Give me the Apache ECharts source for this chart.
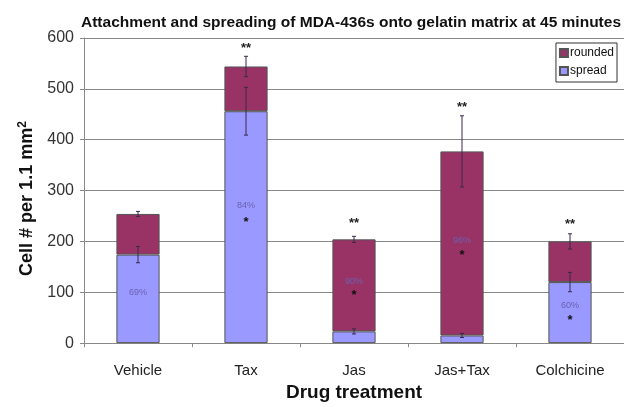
<!DOCTYPE html>
<html><head><meta charset="utf-8">
<script src="https://cdn.jsdelivr.net/npm/echarts@6/dist/echarts.min.js"></script>
<style>html,body{margin:0;padding:0;background:#fff}#c{width:624px;height:407px}</style>
</head><body><div id="c"></div>
<script>
const categories = ['Vehicle', 'Tax', 'Jas', 'Jas+Tax', 'Colchicine'];
const spread = [174, 456, 23, 15, 120];
const rounded = [80, 88, 181, 362, 80];
const spreadErr = [16, 47, 5, 4, 19];
const totalErr = [5, 20, 6, 70, 15];
const pctLabels = ['69%', '84%', '90%', '96%', '60%'];
const pctY = [101, 272, 124, 204, 76];
const starY = [null, 243, 99, 179, 51];
const sigY = [null, 586, 241, 470, 239];

const FONT = '"Liberation Sans", Arial, sans-serif';

const chart = echarts.init(document.getElementById('c'), null, {renderer: 'canvas'});

function errItem(params, api) {
  const x = api.value(0), v = api.value(1), e = api.value(2);
  const t = api.coord([x, v + e]);
  const b = api.coord([x, v - e]);
  const w = 2;
  const st = {stroke: '#3a2a4a', lineWidth: 1};
  return {type: 'group', children: [
    {type: 'line', shape: {x1: t[0], y1: t[1], x2: b[0], y2: b[1]}, style: st},
    {type: 'line', shape: {x1: t[0] - w, y1: t[1], x2: t[0] + w, y2: t[1]}, style: st},
    {type: 'line', shape: {x1: b[0] - w, y1: b[1], x2: b[0] + w, y2: b[1]}, style: st}
  ]};
}
function textItem(texts, font, color, dy) {
  return function (params, api) {
    const idx = api.value(0);
    const p = api.coord([idx, api.value(1)]);
    return {type: 'text', x: p[0], y: p[1] + (dy || 0), style: {
      text: texts[idx], font: font, fill: color, align: 'center', verticalAlign: 'middle'}};
  };
}
function pts(ys) {
  const out = [];
  ys.forEach((y, i) => { if (y !== null) out.push([i, y]); });
  return out;
}

const totals = spread.map((s, i) => s + rounded[i]);

chart.setOption({
  animation: false,
  title: {
    text: 'Attachment and spreading of MDA-436s onto gelatin matrix at 45 minutes',
    left: 346, top: 10, textAlign: 'center',
    textStyle: {fontFamily: FONT, fontWeight: 'bold', fontSize: 15.5, color: '#111'}
  },
  legend: {
    data: ['rounded', 'spread'], orient: 'vertical', right: 7, top: 43,
    borderColor: '#333', borderWidth: 1, padding: [4, 3, 5, 3], itemGap: 6,
    itemWidth: 8, itemHeight: 8, icon: 'rect', backgroundColor: '#fff',
    textStyle: {fontFamily: FONT, fontSize: 12, color: '#111', padding: [0, 0, 0, -3]}
  },
  grid: {left: 84, top: 38, width: 545, height: 309},
  xAxis: {
    type: 'category', data: categories,
    axisLine: {lineStyle: {color: '#888', width: 1}},
    axisTick: {show: true, length: 4, lineStyle: {color: '#888'}},
    axisLabel: {fontFamily: FONT, fontSize: 15, color: '#222', margin: 20},
    name: 'Drug treatment', nameLocation: 'middle', nameGap: 39,
    nameTextStyle: {fontFamily: FONT, fontSize: 19, fontWeight: 'bold', color: '#111'}
  },
  yAxis: {
    type: 'value', min: 0, max: 600, interval: 100,
    axisLine: {show: true, lineStyle: {color: '#888', width: 1}},
    axisTick: {show: true, length: 4, lineStyle: {color: '#888'}},
    splitLine: {lineStyle: {color: '#888', width: 1}},
    axisLabel: {fontFamily: FONT, fontSize: 16, color: '#333', margin: 10},
    name: 'Cell # per 1.1 mm{s|2}', nameLocation: 'middle', nameGap: 47,
    nameTextStyle: {fontFamily: FONT, fontSize: 18, fontWeight: 'bold', color: '#111',
      padding: [0, 16, 0, 0],
      rich: {s: {fontFamily: FONT, fontSize: 12, fontWeight: 'bold', color: '#111', verticalAlign: 'top', padding: [0, 0, 8, 0]}}}
  },
  series: [
    {name: 'spread', type: 'bar', stack: 'a', data: spread, barWidth: '40%',
      itemStyle: {color: '#9999FF', borderColor: '#555', borderWidth: 1}},
    {name: 'rounded', type: 'bar', stack: 'a', data: rounded, barWidth: '40%',
      itemStyle: {color: '#993366', borderColor: '#555', borderWidth: 1}},
    {type: 'custom', renderItem: errItem, z: 5,
      data: categories.map((c, i) => [i, spread[i], spreadErr[i]])},
    {type: 'custom', renderItem: errItem, z: 5,
      data: categories.map((c, i) => [i, totals[i], totalErr[i]])},
    {type: 'custom', renderItem: textItem(pctLabels, '9px ' + FONT, '#6a62b0', 1), z: 6,
      data: pts(pctY)},
    {type: 'custom', renderItem: textItem(categories.map(() => '*'), 'bold 13px ' + FONT, '#111', 3), z: 6,
      data: pts(starY)},
    {type: 'custom', renderItem: textItem(categories.map(() => '**'), 'bold 13px ' + FONT, '#222', 3), z: 6,
      data: pts(sigY)}
  ]
});
</script></body></html>
